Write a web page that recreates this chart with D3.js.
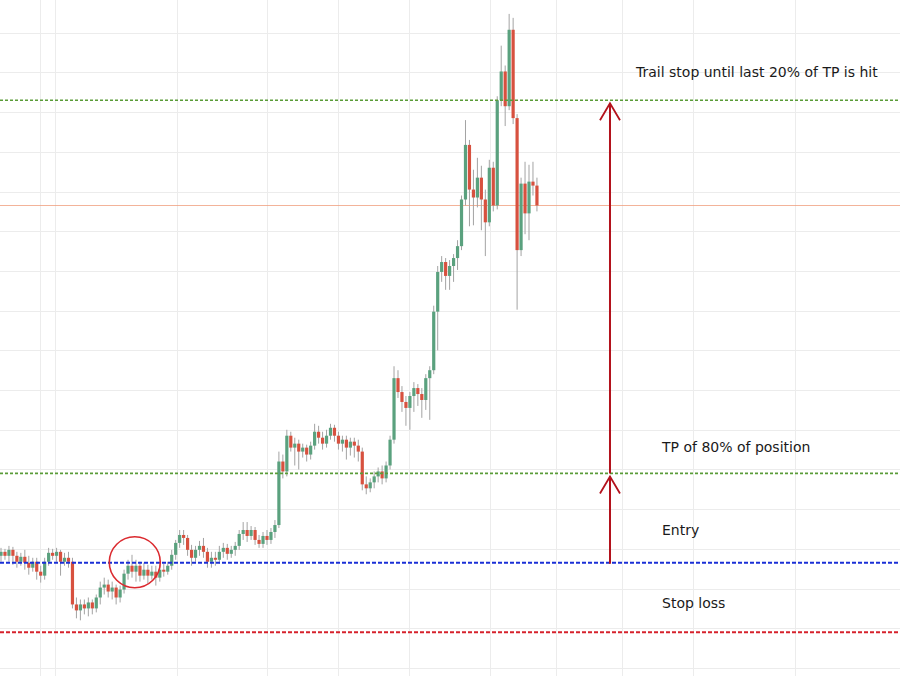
<!DOCTYPE html>
<html><head><meta charset="utf-8">
<script src="https://cdn.jsdelivr.net/npm/d3@7"></script>
<style>html,body{margin:0;padding:0;background:#fff;}svg{display:block;}</style>
</head><body>
<svg id="chart" width="900" height="676"></svg>
<script>
// ---- data ----
const opens  = [513,517,513,519,513,507,512,506,501,507,497,493,507,516,513,517,507,511,507,464,458,464,460,466,460,471,481,484,477,481,471,479,495,503,497,503,493,499,493,497,491,499,497,503,514,526,534,531,519,511,519,523,517,507,511,509,517,521,515,519,523,535,539,533,539,529,525,533,529,537,544,608,598,634,622,626,618,622,615,624,638,632,626,634,642,634,626,630,622,628,624,618,585,581,587,593,598,591,604,630,692,678,668,662,674,682,676,670,692,700,759,799,809,795,805,813,825,872,927,882,874,894,872,849,904,866,972,1001,966,1043,954,821,888,858,890,886];
const highs  = [521,520,523,522,517,516,519,513,511,511,503,511,521,520,521,519,516,517,511,471,469,469,471,469,474,487,491,489,487,484,483,499,509,514,509,507,506,504,503,503,504,505,507,519,529,539,539,534,524,523,528,531,521,517,517,523,526,525,523,527,539,547,547,543,542,534,537,539,541,549,618,615,640,638,632,630,626,625,628,646,644,638,640,646,645,638,634,634,632,632,630,622,593,591,598,602,604,608,634,704,700,684,674,678,688,686,682,696,704,765,805,815,813,811,817,831,876,952,932,902,914,906,882,912,910,976,1027,1007,1059,1055,958,894,910,907,910,894];
const lows   = [507,509,507,504,501,503,499,494,497,489,486,489,503,509,507,493,503,501,460,450,448,454,452,454,456,464,474,471,469,464,466,475,489,491,487,487,489,485,489,483,487,492,494,499,509,521,524,513,503,507,513,511,501,501,503,505,511,509,511,513,519,529,527,529,524,521,521,524,525,531,541,591,593,618,604,600,612,608,610,620,626,620,622,630,628,620,618,610,614,612,608,579,575,577,581,587,585,587,600,626,672,658,644,640,658,664,652,660,650,696,720,789,781,781,789,801,821,866,845,846,864,841,815,845,860,862,966,946,962,948,761,815,837,831,876,860];
const closes = [517,513,519,513,507,512,506,501,507,497,493,507,516,513,517,507,511,507,464,458,464,460,466,460,471,481,484,477,481,471,479,495,503,497,503,493,499,493,497,491,499,497,503,514,526,534,531,519,511,519,523,517,507,511,509,517,521,515,519,523,535,539,533,539,529,525,533,529,537,544,608,598,634,622,626,618,622,615,624,638,632,626,634,642,634,626,630,622,628,624,618,585,581,587,593,598,591,604,630,692,678,668,662,674,682,676,670,692,700,759,799,809,795,805,813,825,872,927,882,874,894,872,849,904,866,972,1001,966,1043,954,821,888,858,890,886,866];

const gridTimeTicks = [9.82, 13.6, 44.33, 67.0, 84.89, 102.77, 123.17, 139.8, 156.42, 174.31, 200];
const priceTicks = d3.range(400, 1041, 40);

const levelNames  = ["Trail", "TP", "Entry", "Stop"];
const levelPrices = [972, 596, 506, 436];
const levelColors = ["#5a9c38", "#5a9c38", "#1a2fd6", "#d6222c"];

const labelTexts = ["Trail stop until last 20% of TP is hit", "TP of 80% of position", "Entry", "Stop loss"];
const signalIndex = 33.7;
const arrowIndex = 153.4;

// ---- setup ----
const W = 900, H = 676;
const svg = d3.select("#chart");
const x = d3.scaleLinear().domain([0, 226.4]).range([1, 899.8]);
const y = d3.scaleLinear().domain([391.9, 1073]).range([676, 0]);

const candles = opens.map((o, i) => ({i, o, h: highs[i], l: lows[i], c: closes[i]}));

// grid
const grid = svg.append("g");
grid.selectAll("line.h").data(priceTicks).join("line")
  .attr("x1", 0).attr("x2", W)
  .attr("y1", d => Math.round(y(d)) + 0.5).attr("y2", d => Math.round(y(d)) + 0.5)
  .attr("stroke", "#ececec").attr("stroke-width", 1);
grid.selectAll("line.v").data(gridTimeTicks).join("line")
  .attr("y1", 0).attr("y2", H)
  .attr("x1", d => Math.round(x(d)) + 0.5).attr("x2", d => Math.round(x(d)) + 0.5)
  .attr("stroke", "#ececec").attr("stroke-width", 1);

// last price line
const lastClose = closes[closes.length - 1];
svg.append("line").attr("x1", 0).attr("x2", W)
  .attr("y1", Math.round(y(lastClose)) + 0.5).attr("y2", Math.round(y(lastClose)) + 0.5)
  .attr("stroke", "#f0a080").attr("stroke-opacity", 0.8).attr("stroke-width", 1);

// candles
const bw = 3.2;
const cg = svg.append("g");
cg.selectAll("line.wick").data(candles).join("line")
  .attr("x1", d => x(d.i)).attr("x2", d => x(d.i))
  .attr("y1", d => y(d.h)).attr("y2", d => y(d.l))
  .attr("stroke", "#a3a3a3").attr("stroke-width", 1);
cg.selectAll("rect.body").data(candles).join("rect")
  .attr("x", d => x(d.i) - bw / 2)
  .attr("width", bw)
  .attr("y", d => y(Math.max(d.o, d.c)))
  .attr("height", d => Math.max(1.5, Math.abs(y(d.o) - y(d.c))))
  .attr("fill", d => d.c >= d.o ? "#5aa17e" : "#d7513f");

// level lines
const dashes = ["3,2", "3,2", "4,2", "4,2"];
const widths = [1.7, 1.7, 2.2, 1.8];
svg.selectAll("line.level").data(levelPrices).join("line")
  .attr("x1", 0).attr("x2", W)
  .attr("y1", d => y(d)).attr("y2", d => y(d))
  .attr("stroke", (d, i) => levelColors[i])
  .attr("stroke-width", (d, i) => widths[i])
  .attr("stroke-dasharray", (d, i) => dashes[i]);

// circle
svg.append("circle")
  .attr("cx", x(signalIndex)).attr("cy", y(levelPrices[2]) - 0.5)
  .attr("r", 25.5)
  .attr("fill", "none").attr("stroke", "#db2a2f").attr("stroke-width", 1.6);

// arrows
const ax = x(arrowIndex);
const arrowColor = "#b3121c";
function arrow(fromP, toP) {
  const y0 = y(fromP), y1 = y(toP) + 3;
  svg.append("line").attr("x1", ax).attr("x2", ax).attr("y1", y0).attr("y2", y1)
    .attr("stroke", arrowColor).attr("stroke-width", 2);
  svg.append("path")
    .attr("d", `M${ax - 10},${y1 + 17} L${ax},${y1} L${ax + 10},${y1 + 17}`)
    .attr("fill", "none").attr("stroke", arrowColor).attr("stroke-width", 1.8);
}
arrow(levelPrices[2] - 1, levelPrices[1]);
arrow(levelPrices[1], levelPrices[0]);

// labels
const labelX = [636, 662, 662, 662];
const labelY = [77, 452, 535, 608];
svg.selectAll("text.lbl").data(labelTexts).join("text")
  .attr("x", (d, i) => labelX[i]).attr("y", (d, i) => labelY[i])
  .attr("font-family", "'DejaVu Sans', Verdana, sans-serif")
  .attr("font-size", 14)
  .attr("fill", "#1a1a1a")
  .text(d => d);
</script>
</body></html>
